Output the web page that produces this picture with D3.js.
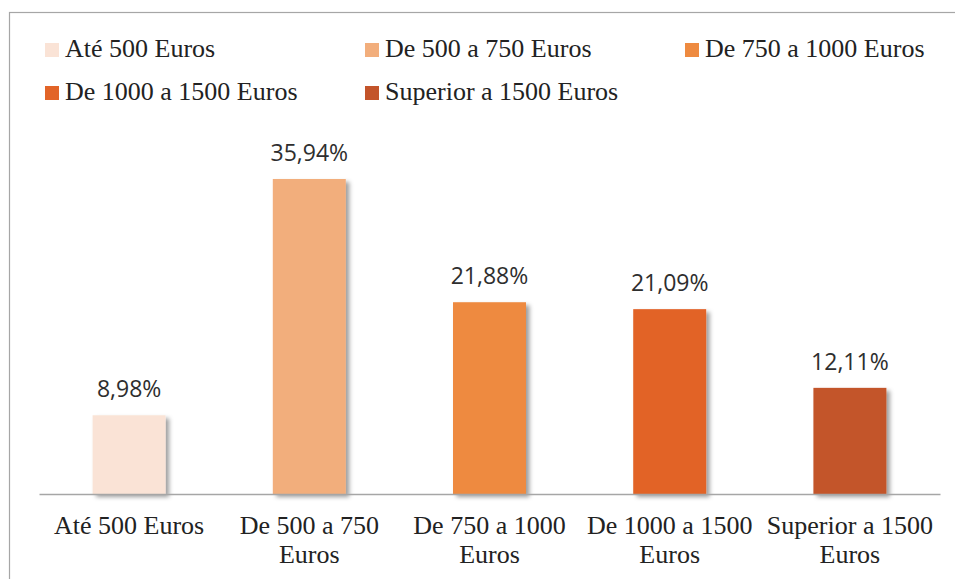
<!DOCTYPE html>
<html>
<head>
<meta charset="utf-8">
<script src="https://cdn.jsdelivr.net/npm/d3@7/dist/d3.min.js"></script>
<style>
  html, body { margin: 0; padding: 0; background: #fff; }
  svg { display: block; }
</style>
</head>
<body>
<svg id="chart" width="955" height="579"></svg>
<script>
// Income brackets and share of respondents (%)
const categories = ["Até 500 Euros", "De 500 a 750 Euros", "De 750 a 1000 Euros", "De 1000 a 1500 Euros", "Superior a 1500 Euros"];
const values = [8.98, 35.94, 21.88, 21.09, 12.11];
const valueLabels = ["8,98%", "35,94%", "21,88%", "21,09%", "12,11%"];
const colors = ["#FAE3D6", "#F2AE7C", "#EE8A40", "#E26428", "#C3542A"];

const svg = d3.select("#chart");
const W = 955, H = 579;
const serif = "'Liberation Serif', 'Times New Roman', serif";
const sans = "'Open Sans', 'Liberation Sans', sans-serif";

// soft drop shadow under the bars
const defs = svg.append("defs");
const f = defs.append("filter").attr("id", "shadow")
  .attr("x", "-20%").attr("y", "-20%").attr("width", "150%").attr("height", "150%");
f.append("feDropShadow").attr("dx", 3.5).attr("dy", 3).attr("stdDeviation", 2.2)
  .attr("flood-color", "#000").attr("flood-opacity", 0.38);

// chart frame
svg.append("rect")
  .attr("x", 9.5).attr("y", 12.5).attr("width", W + 20).attr("height", H + 20)
  .attr("fill", "none").attr("stroke", "#A6A6A6").attr("stroke-width", 1.2);

// scales
const plot = { left: 39, right: 940, top: 100, bottom: 494 };
const x = d3.scaleBand().domain(categories).range([plot.left, plot.right]).padding(0);
const y = d3.scaleLinear().domain([0, 40]).range([plot.bottom, plot.bottom - 40 * 8.765]);
const barW = x.bandwidth() * 0.405;
const color = d3.scaleOrdinal().domain(categories).range(colors);

const data = categories.map((c, i) => ({ c, v: values[i], label: valueLabels[i] }));

// bars
svg.append("g").selectAll("rect").data(data).join("rect")
  .attr("x", d => x(d.c) + (x.bandwidth() - barW) / 2)
  .attr("y", d => y(d.v))
  .attr("width", barW)
  .attr("height", d => y(0) - y(d.v))
  .attr("fill", d => color(d.c))
  .attr("filter", "url(#shadow)");

// value labels
svg.append("g").selectAll("text").data(data).join("text")
  .attr("x", d => x(d.c) + x.bandwidth() / 2)
  .attr("y", d => y(d.v) - 18)
  .attr("text-anchor", "middle")
  .attr("font-family", sans).attr("font-size", 23)
  .attr("fill", "#2e2e2e")
  .text(d => d.label);

// category axis
const axis = svg.append("g")
  .attr("transform", `translate(0,${plot.bottom})`)
  .call(d3.axisBottom(x).tickSize(0).tickSizeOuter(0));
axis.select(".domain").attr("stroke", "#A6A6A6").attr("stroke-width", 1.3);
axis.selectAll(".tick text")
  .attr("font-family", serif).attr("font-size", 26).attr("fill", "#222")
  .attr("y", 40).attr("dy", 0)
  .each(function (d) {
    const t = d3.select(this);
    const words = d.split(" ");
    t.text(null);
    let line = [], lineNo = 0;
    let tspan = t.append("tspan").attr("x", 0).attr("y", 40);
    for (const w of words) {
      line.push(w);
      tspan.text(line.join(" "));
      if (tspan.node().getComputedTextLength() > x.bandwidth() - 6 && line.length > 1) {
        line.pop();
        tspan.text(line.join(" "));
        line = [w];
        lineNo++;
        tspan = t.append("tspan").attr("x", 0).attr("y", 40 + lineNo * 29).text(w);
      }
    }
  });

// legend
const legend = svg.append("g");
const legendPos = (i) => ({ x: 45 + (i % 3) * 320, y: 43 + Math.floor(i / 3) * 43 });
const items = legend.selectAll("g").data(categories).join("g")
  .attr("transform", (d, i) => `translate(${legendPos(i).x},${legendPos(i).y})`);
items.append("rect").attr("width", 14).attr("height", 14).attr("fill", d => color(d));
items.append("text").attr("x", 20).attr("y", 14)
  .attr("font-family", serif).attr("font-size", 26).attr("fill", "#222")
  .text(d => d);
</script>
</body>
</html>
